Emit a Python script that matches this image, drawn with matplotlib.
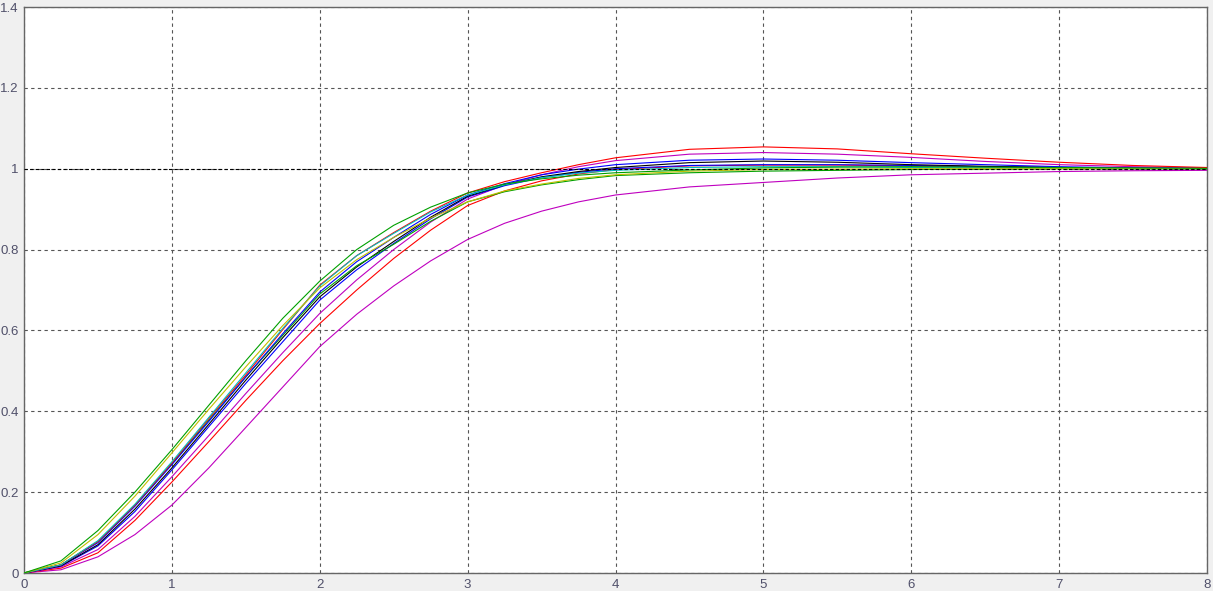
import numpy as np
import matplotlib
matplotlib.use('Agg')
import matplotlib.pyplot as plt

# sample times (s)
t = [0, 0.25, 0.5, 0.75, 1, 1.25, 1.5, 1.75, 2, 2.25, 2.5, 2.75, 3, 3.25, 3.5, 3.75, 4,
     4.5, 5, 5.5, 6, 6.5, 7, 7.5, 8]

# step responses
green_fast = [0, .03, .105, .2, .305, .415, .525, .63, .722, .8, .86, .905, .94, .962, .975, .984, .99,
              .997, 1.002, 1.004, 1.005, 1.004, 1.003, 1.002, 1.001]
yellow = [0, .025, .095, .19, .297, .405, .51, .612, .705, .775, .83, .878, .918, .945, .962, .976, .985,
          .994, .998, .999, 1.0, 1.0, 1.0, 1.0, 1.0]
cyan = [0, .02, .08, .17, .275, .385, .495, .605, .71, .785, .84, .893, .935, .96, .978, .989, .996,
        1.003, 1.005, 1.005, 1.003, 1.002, 1.001, 1.0, 1.0]
red_fast = [0, .02, .078, .168, .272, .382, .49, .602, .712, .785, .842, .895, .94, .968, .99, 1.01, 1.027,
            1.048, 1.054, 1.049, 1.037, 1.026, 1.016, 1.008, 1.003]
blue = [0, .02, .075, .165, .268, .375, .485, .592, .695, .77, .83, .887, .935, .963, .985, .999, 1.01,
        1.021, 1.024, 1.021, 1.015, 1.01, 1.005, 1.002, 1.001]
green_slow = [0, .02, .078, .168, .27, .378, .485, .588, .69, .76, .813, .87, .918, .943, .96, .973, .983,
              .99, .994, .996, .998, .999, 1.0, 1.0, 1.0]
black = [0, .018, .07, .158, .26, .368, .477, .582, .683, .757, .82, .88, .932, .96, .98, .993, 1.003,
         1.015, 1.019, 1.016, 1.01, 1.006, 1.003, 1.001, 1.0]
blue2 = [0, .017, .067, .152, .255, .362, .469, .572, .675, .75, .815, .876, .93, .958, .978, .991, 1.0,
         1.008, 1.01, 1.01, 1.008, 1.005, 1.003, 1.001, 1.0]
magenta = [0, .015, .058, .14, .238, .34, .444, .545, .642, .725, .80, .868, .925, .96, .985, 1.005, 1.02,
           1.036, 1.04, 1.036, 1.028, 1.018, 1.01, 1.005, 1.002]
red_slow = [0, .012, .05, .13, .225, .325, .427, .525, .617, .70, .778, .848, .909, .945, .97, .987, .998,
            1.007, 1.009, 1.009, 1.007, 1.005, 1.003, 1.002, 1.001]
magenta_slow = [0, .008, .04, .095, .168, .26, .36, .46, .56, .64, .71, .772, .825, .865, .895, .918, .935,
                .955, .966, .977, .985, .989, .993, .995, .996]

curves = [
    (magenta_slow, '#bf00bf'),
    (red_slow, '#ff0000'),
    (magenta, '#bf00bf'),
    (blue2, '#0000ff'),
    (black, '#000000'),
    (green_slow, '#00a000'),
    (blue, '#0000ff'),
    (red_fast, '#ff0000'),
    (cyan, '#00bfbf'),
    (yellow, '#bfbf00'),
    (green_fast, '#00a000'),
]

xticks = [0, 1, 2, 3, 4, 5, 6, 7, 8]
yticks = [0, 0.2, 0.4, 0.6, 0.8, 1, 1.2, 1.4]
ytick_labels = ['0', '0.2', '0.4', '0.6', '0.8', '1', '1.2', '1.4']

W, H = 1213, 591
fig = plt.figure(figsize=(W / 100, H / 100), dpi=100, facecolor='#f0f0f0')
ax = fig.add_axes([24 / W, (H - 573) / H, (1207 - 24) / W, (573 - 7) / H])
ax.set_facecolor('white')

for y, c in curves:
    ax.plot(t, y, color=c, lw=0.8, zorder=3)

# steady-state reference line
ax.plot([0, 8], [1, 1], color='k', lw=0.8, ls=(0, (3, 2)), zorder=4)

ax.set_xlim(0, 8)
ax.set_ylim(0, 1.4)
ax.set_xticks(xticks)
ax.set_xticklabels([str(v) for v in xticks])
ax.set_yticks(yticks)
ax.set_yticklabels(ytick_labels)
ax.grid(True, color='#555555', lw=0.8, ls=(0, (3, 3)), zorder=1)
ax.set_axisbelow(True)

for s in ax.spines.values():
    s.set_color('#666666')
    s.set_linewidth(1.0)

ax.tick_params(length=0, pad=4, labelsize=9.5, labelcolor='#50506a')
for lab in ax.get_xticklabels() + ax.get_yticklabels():
    lab.set_family('Liberation Sans')

fig.savefig('out.png', dpi=100, facecolor=fig.get_facecolor())
